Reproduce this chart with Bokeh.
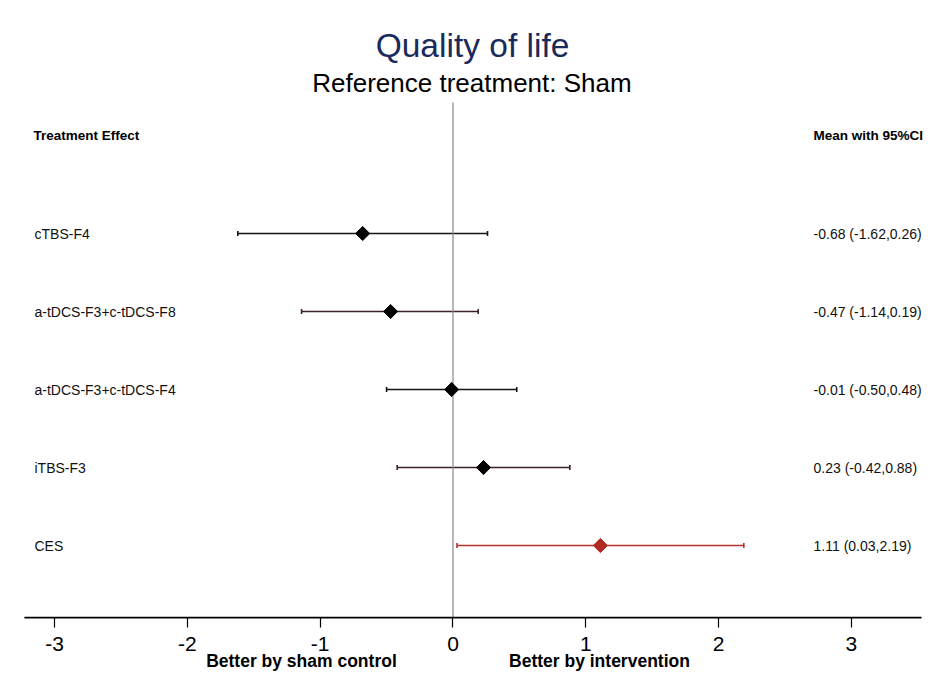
from bokeh.plotting import figure
from bokeh.models import ColumnDataSource, Range1d, Whisker, TeeHead, FixedTicker
from bokeh.core.properties import value
from bokeh.embed import file_html
from bokeh.resources import INLINE
import math

# ---- data ----
treatments = ["cTBS-F4", "a-tDCS-F3+c-tDCS-F8", "a-tDCS-F3+c-tDCS-F4", "iTBS-F3", "CES"]
means = [-0.68, -0.47, -0.01, 0.23, 1.11]
lowers = [-1.62, -1.14, -0.50, -0.42, 0.03]
uppers = [0.26, 0.19, 0.48, 0.88, 2.19]
row_pos = [5, 4, 3, 2, 1]
x_ticks = [-3, -2, -1, 0, 1, 2, 3]
line_colors = ["#141414", "#3c1f26", "#141414", "#3c1f26", "#b8322c"]
marker_colors = ["#000000", "#000000", "#000000", "#000000", "#b02a22"]
title_text = "Quality of life"
subtitle_text = "Reference treatment: Sham"
left_header = "Treatment Effect"
right_header = "Mean with 95%CI"
left_note = "Better by sham control"
right_note = "Better by intervention"

ci_text = [f"{m:.2f} ({l:.2f},{u:.2f})" for m, l, u in zip(means, lowers, uppers)]

FONT = "Liberation Sans"
AXIS_Y = 0.0769

src = ColumnDataSource(dict(
    y=row_pos, mean=means, lower=lowers, upper=uppers,
    name=treatments, ci=ci_text, lc=line_colors, mc=marker_colors,
))

p = figure(width=929, height=671, output_backend="svg", toolbar_location=None,
           x_range=Range1d(-3.407, 3.588), y_range=Range1d(-0.615, 7.987),
           y_axis_location=None, min_border_left=0, min_border_right=0,
           min_border_top=0, min_border_bottom=0)
p.outline_line_color = None
p.xgrid.visible = False
p.ygrid.visible = False
p.background_fill_color = "white"
p.border_fill_color = "white"

# reference line at zero
p.segment(x0=[0], y0=[AXIS_Y], x1=[0], y1=[6.679], line_color="#8a8a8a", line_width=1.2)

# baseline of the x axis
p.segment(x0=[-3.227], y0=[AXIS_Y], x1=[3.528], y1=[AXIS_Y], line_color="#000000", line_width=1.8)

# CI lines with caps
w = Whisker(source=src, base="y", lower="lower", upper="upper", dimension="width",
            line_color="lc", line_width=1.6,
            lower_head=TeeHead(size=5, line_color="lc", line_width=1.6),
            upper_head=TeeHead(size=5, line_color="lc", line_width=1.6))
p.add_layout(w)

p.scatter(x="mean", y="y", source=src, marker="square", size=10, angle=math.pi / 4,
          fill_color="mc", line_color="mc")

# row labels and CI texts
p.text(x=-3.151, y="y", text="name", source=src, text_font=value(FONT),
       text_font_size="14px", text_baseline="middle", text_align="left", text_color="#111111")
p.text(x=2.715, y="y", text="ci", source=src, text_font=value(FONT),
       text_font_size="14px", text_baseline="middle", text_align="left", text_color="#111111")

# titles and headers
p.text(x=[0.147], y=[7.41], text=[title_text], text_font=value(FONT), text_font_size="33.5px",
       text_baseline="middle", text_align="center", text_color="#1b2a5c")
p.text(x=[0.143], y=[6.923], text=[subtitle_text], text_font=value(FONT), text_font_size="26px",
       text_baseline="middle", text_align="center", text_color="#000000")
p.text(x=[-3.159], y=[6.256], text=[left_header], text_font=value(FONT), text_font_size="13.5px",
       text_font_style="bold", text_baseline="middle", text_align="left", text_color="#000000")
p.text(x=[2.715], y=[6.256], text=[right_header], text_font=value(FONT), text_font_size="13.5px",
       text_font_style="bold", text_baseline="middle", text_align="left", text_color="#000000")

# direction notes below axis
p.text(x=[-1.141, 1.103], y=[-0.48, -0.48], text=[left_note, right_note], text_font=value(FONT),
       text_font_size="17.5px", text_font_style="bold", text_baseline="middle", text_align="center",
       text_color="#000000")

# x axis drawn at fixed location inside the frame
ax = p.xaxis[0]
ax.fixed_location = AXIS_Y
ax.ticker = FixedTicker(ticks=x_ticks)
ax.major_label_overrides = {t: str(t) for t in x_ticks}
ax.axis_line_color = None
ax.major_tick_line_color = "#000000"
ax.major_tick_line_width = 1.2
ax.major_tick_out = 10
ax.major_tick_in = 0
ax.minor_tick_line_color = None
ax.major_label_text_font = FONT
ax.major_label_text_font_size = "21px"
ax.major_label_text_color = "#000000"
ax.major_label_standoff = 9

open("out.html", "w").write(file_html(p, INLINE))
